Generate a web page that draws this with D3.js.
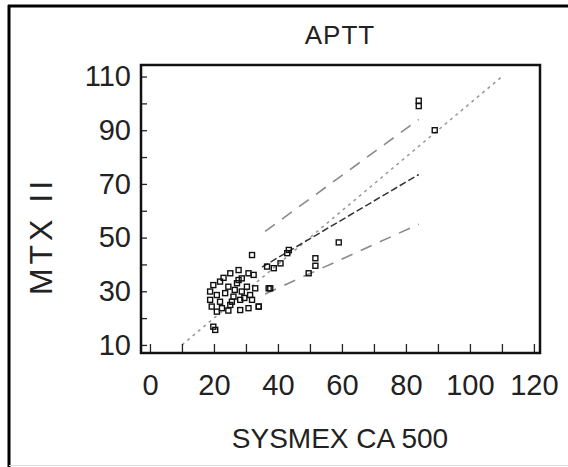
<!DOCTYPE html>
<html>
<head>
<meta charset="utf-8">
<script src="https://cdn.jsdelivr.net/npm/d3@7"></script>
<style>
  body { margin: 0; background: #fff; }
  svg { display: block; }
  text { font-family: "Liberation Sans", Arial, sans-serif; fill: #222; }
</style>
</head>
<body>
<script>
// APTT: MTX II vs SYSMEX CA 500
const xPts = [20.4, 19.8, 25.1, 27.7, 30.8, 32.4, 28.7, 19.8, 21.9, 24.5, 27.2, 30.3, 32.9, 37.1,
  18.8, 20.9, 23.5, 26.1, 28.7, 31.3, 18.8, 21.9, 25.6, 28.2, 31.9, 19.3, 22.5, 25.1, 28.2,
  30.8, 34, 20.9, 24.5, 27.7, 23, 26.5, 29.5, 31.9, 37.6, 34, 36.6, 38.7, 40.8, 42.9, 43.4,
  49.6, 51.7, 51.7, 59, 84, 84, 89];
const yPts = [15.6, 16.8, 36.7, 37.9, 36.7, 36.1, 34.8, 32.3, 33.6, 31.7, 33, 31.7, 31.1, 31.1,
  29.9, 28.6, 29.3, 28, 29.9, 28.6, 26.8, 26.1, 26.1, 26.8, 26.8, 24.3, 23.7, 24.9, 23,
  23.7, 24.3, 22.4, 22.8, 34.2, 35, 30.5, 27.5, 43.5, 31.1, 24.3, 39.2, 38.6, 40.4, 44.2, 45.4,
  36.7, 42.3, 39.5, 48.2, 101, 99, 90];

// identity, upper band, fit, lower band
const identityX = [10, 110], identityY = [10, 110];
const upperX = [36, 84], upperY = [52.3, 94];
const fitX = [35, 84], fitY = [39, 73.5];
const lowerX = [36, 84], lowerY = [29, 55];

const xTicks = d3.range(0, 121, 10);
const yTicks = d3.range(10, 111, 10);

const width = 568, height = 467;
const svg = d3.select("body").append("svg").attr("width", width).attr("height", height);

// frame
svg.append("line").attr("x1", 8).attr("y1", 6).attr("x2", 568).attr("y2", 6)
  .attr("stroke", "#000").attr("stroke-width", 3);
svg.append("line").attr("x1", 9).attr("y1", 5).attr("x2", 9).attr("y2", 467)
  .attr("stroke", "#000").attr("stroke-width", 3);
svg.append("line").attr("x1", 9).attr("y1", 465.5).attr("x2", 568).attr("y2", 465.5)
  .attr("stroke", "#ddd").attr("stroke-width", 1);

const x = d3.scaleLinear().domain([-2.8, 121.9]).range([141, 540]);
const y = d3.scaleLinear().domain([7, 114.3]).range([353, 65]);

const line = d3.line()
  .x(function (d) { return x(d[0]); })
  .y(function (d) { return y(d[1]); });

function drawLine(xs, ys, color, dash, w) {
  svg.append("path")
    .datum(d3.zip(xs, ys))
    .attr("d", line)
    .attr("fill", "none")
    .attr("stroke", color)
    .attr("stroke-width", w)
    .attr("stroke-dasharray", dash);
}

drawLine(identityX, identityY, "#9a9a9a", "3,4", 1.6);
drawLine(upperX, upperY, "#8a8a8a", "12,9", 1.6);
drawLine(fitX, fitY, "#333", "7,3", 1.5);
drawLine(lowerX, lowerY, "#8a8a8a", "12,9", 1.6);

// points
svg.append("g")
  .selectAll("rect")
  .data(d3.zip(xPts, yPts))
  .enter()
  .append("rect")
  .attr("x", function (d) { return x(d[0]) - 2.5; })
  .attr("y", function (d) { return y(d[1]) - 2.5; })
  .attr("width", 5)
  .attr("height", 5)
  .attr("fill", "none")
  .attr("stroke", "#111")
  .attr("stroke-width", 1.4);

// axes
const xAxis = svg.append("g")
  .attr("transform", "translate(0,353)")
  .call(d3.axisBottom(x).tickValues(xTicks).tickSize(-9).tickPadding(21)
    .tickFormat(function (d) { return d % 20 === 0 ? d : ""; }));
const yAxis = svg.append("g")
  .attr("transform", "translate(141,0)")
  .call(d3.axisLeft(y).tickValues(yTicks).tickSize(-6).tickPadding(10)
    .tickFormat(function (d) { return d % 20 === 10 ? d : ""; }));

[xAxis, yAxis].forEach(function (a) {
  a.select(".domain").remove();
  a.selectAll("line").attr("stroke", "#222").attr("stroke-width", 1.3);
  a.selectAll("text").style("font-size", "29px").attr("fill", "#222")
    .style("font-family", '"Liberation Sans", Arial, sans-serif');
});

// plot box
svg.append("rect")
  .attr("x", 141).attr("y", 65).attr("width", 399).attr("height", 288)
  .attr("fill", "none").attr("stroke", "#111").attr("stroke-width", 2.5);

// titles
svg.append("text").attr("x", 340).attr("y", 44).attr("text-anchor", "middle")
  .style("font-size", "26px").style("letter-spacing", "1px").text("APTT");
svg.append("text").attr("x", 340).attr("y", 448).attr("text-anchor", "middle")
  .style("font-size", "28px").attr("fill", "#333").text("SYSMEX CA 500");
svg.append("text")
  .attr("transform", "translate(52,236) rotate(-90)")
  .attr("text-anchor", "middle")
  .style("font-size", "32px").style("letter-spacing", "4px").text("MTX II");
</script>
</body>
</html>
